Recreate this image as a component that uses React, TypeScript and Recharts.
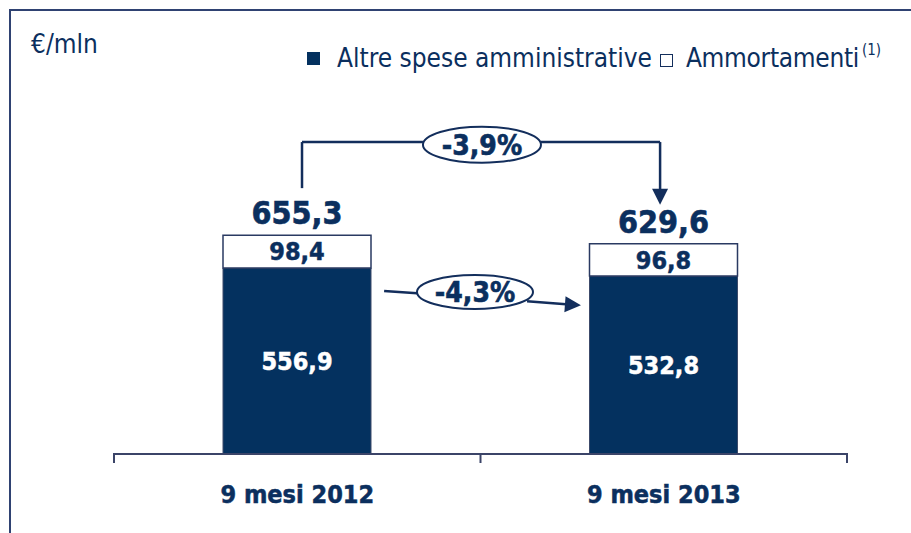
import React from 'react';
import { BarChart, Bar, XAxis, YAxis, LabelList, ReferenceLine, ReferenceDot } from 'recharts';

// ---- data ----
const categories = ['9 mesi 2012', '9 mesi 2013'];
const categoryPos = [0.5, 1.5];
const axisTicks = [0, 0.5, 1, 1.5, 2];
const altreSpese = [556.9, 532.8];
const ammortamenti = [98.4, 96.8];
const totali = [655.3, 629.6];
const seriesNames = ['Altre spese amministrative', 'Ammortamenti'];
const unitLabel = '€/mln';
const footnoteMark = '(1)';
const varTotale = '-3,9%';
const varAltre = '-4,3%';

// annotation anchors in chart units (x: axis units 0..2, y: value units)
const bracketLeft = [{ x: 0.513, y: 796 }, { x: 0.513, y: 934 }];
const bracketTopA = [{ x: 0.513, y: 934 }, { x: 0.843, y: 934 }];
const bracketTopB = [{ x: 1.165, y: 934 }, { x: 1.49, y: 934 }];
const bracketRight = [{ x: 1.49, y: 934 }, { x: 1.49, y: 746 }];
const ovalTotale = { x: 1.004, y: 926 };
const arrowAltreA = [{ x: 0.737, y: 488 }, { x: 0.827, y: 481 }];
const arrowAltreB = [{ x: 1.127, y: 457 }, { x: 1.274, y: 445 }];
const ovalAltre = { x: 0.985, y: 485 };

const data = categories.map((name, i) => ({
  name,
  pos: categoryPos[i],
  altre: altreSpese[i],
  amm: ammortamenti[i],
  totale: totali[i],
}));

const NAVY = '#04315f';
const TEXT = '#0b2f5e';
const LINE = '#132e5c';
const AXIS = '#3b4468';
const FONT = "'DejaVu Sans Condensed', 'DejaVu Sans', sans-serif";

const fmt = (v: any) => Number(v).toFixed(1).replace('.', ',');

const plainLine = (p: any) => (
  <line x1={p.x1} y1={p.y1} x2={p.x2} y2={p.y2} stroke={LINE} strokeWidth={2.5} />
);

const arrowLine = (p: any) => {
  const { x1, y1, x2, y2 } = p;
  const dx = x2 - x1;
  const dy = y2 - y1;
  const len = Math.hypot(dx, dy) || 1;
  const ux = dx / len;
  const uy = dy / len;
  const hl = 16;
  const hw = 8;
  const bx = x2 - ux * hl;
  const by = y2 - uy * hl;
  return (
    <g>
      <line x1={x1} y1={y1} x2={bx + ux} y2={by + uy} stroke={LINE} strokeWidth={2.5} />
      <polygon
        points={`${x2},${y2} ${bx - uy * hw},${by + ux * hw} ${bx + uy * hw},${by - ux * hw}`}
        fill={LINE}
      />
    </g>
  );
};

const oval = (label: string, rx: number, ry: number) => (p: any) => (
  <g>
    <ellipse cx={p.cx} cy={p.cy} rx={rx} ry={ry} fill="#ffffff" stroke={LINE} strokeWidth={2} />
    <text
      x={p.cx}
      y={p.cy + 10}
      textAnchor="middle"
      fontFamily={FONT}
      fontWeight="bold"
      fontSize={28}
      fill={TEXT}
      stroke={TEXT}
      strokeWidth={0.6}
    >
      {label}
    </text>
  </g>
);

const AxisTick = (p: any) => {
  const v = p.payload?.value;
  const idx = categoryPos.indexOf(v);
  if (idx >= 0) {
    return (
      <text
        x={p.x}
        y={p.y + 49}
        textAnchor="middle"
        fontFamily={FONT}
        fontWeight="bold"
        fontSize={25}
        fill={TEXT}
        stroke={TEXT}
        strokeWidth={0.5}
      >
        {categories[idx]}
      </text>
    );
  }
  return <line x1={p.x} y1={p.y - 1} x2={p.x} y2={p.y + 9} stroke={AXIS} strokeWidth={2} />;
};

export default function App() {
  return (
    <div
      style={{
        position: 'absolute',
        left: 0,
        top: 0,
        width: 911,
        height: 533,
        background: '#ffffff',
        overflow: 'hidden',
        fontFamily: FONT,
      }}
    >
      <div
        style={{
          position: 'absolute',
          left: 9,
          top: 9,
          right: -4,
          bottom: -4,
          borderTop: '2px solid #2f4272',
          borderLeft: '2px solid #2f4272',
        }}
      />
      <div
        style={{
          position: 'absolute',
          left: 31,
          top: 29,
          fontSize: 26,
          color: TEXT,
          lineHeight: '30px',
        }}
      >
        {unitLabel}
      </div>
      <div
        style={{
          position: 'absolute',
          left: 307,
          top: 42,
          height: 32,
          display: 'flex',
          alignItems: 'center',
          fontSize: 26,
          color: TEXT,
          whiteSpace: 'nowrap',
        }}
      >
        <span style={{ display: 'inline-block', width: 13, height: 13, background: NAVY, marginRight: 17 }} />
        <span>{seriesNames[0]}</span>
        <span
          style={{
            display: 'inline-block',
            width: 11,
            height: 11,
            background: '#fff',
            border: `1.5px solid ${LINE}`,
            marginLeft: 8,
            marginRight: 13,
            marginTop: 4,
          }}
        />
        <span style={{ letterSpacing: -0.3 }}>{seriesNames[1]}</span>
        <span style={{ fontSize: 15, position: 'relative', top: -8, marginLeft: 3 }}>{footnoteMark}</span>
      </div>
      <div style={{ position: 'absolute', left: 0, top: 0 }}>
        <BarChart
          width={911}
          height={533}
          data={data}
          margin={{ top: 120, right: 64, bottom: 0, left: 114 }}
        >
          <YAxis hide domain={[0, 1000]} type="number" />
          <XAxis
            dataKey="pos"
            type="number"
            domain={[0, 2]}
            ticks={axisTicks}
            interval={0}
            height={79}
            axisLine={{ stroke: AXIS, strokeWidth: 2 }}
            tickLine={false}
            tickSize={0}
            tickMargin={0}
            tick={<AxisTick />}
          />
          <Bar dataKey="altre" stackId="s" fill={NAVY} stroke="#3c4a6a" strokeWidth={1} barSize={148} isAnimationActive={false}>
            <LabelList
              dataKey="altre"
              position="center"
              formatter={fmt}
              fill="#ffffff"
              stroke="#ffffff"
              strokeWidth={0.5}
              fontSize={25}
              fontWeight="bold"
              fontFamily={FONT}
            />
          </Bar>
          <Bar dataKey="amm" stackId="s" fill="#ffffff" stroke="#2a3a62" strokeWidth={1.5} barSize={148} isAnimationActive={false}>
            <LabelList
              dataKey="amm"
              position="center"
              formatter={fmt}
              fill={TEXT}
              stroke={TEXT}
              strokeWidth={0.5}
              fontSize={25}
              fontWeight="bold"
              fontFamily={FONT}
            />
            <LabelList
              dataKey="totale"
              position="top"
              offset={11}
              formatter={fmt}
              fill={TEXT}
              stroke={TEXT}
              strokeWidth={0.6}
              fontSize={32}
              fontWeight="bold"
              fontFamily={FONT}
            />
          </Bar>
          <ReferenceLine segment={bracketLeft} ifOverflow="visible" shape={plainLine} />
          <ReferenceLine segment={bracketTopA} ifOverflow="visible" shape={plainLine} />
          <ReferenceLine segment={bracketTopB} ifOverflow="visible" shape={plainLine} />
          <ReferenceLine segment={bracketRight} ifOverflow="visible" shape={arrowLine} />
          <ReferenceLine segment={arrowAltreA} ifOverflow="visible" shape={plainLine} />
          <ReferenceLine segment={arrowAltreB} ifOverflow="visible" shape={arrowLine} />
          <ReferenceDot x={ovalTotale.x} y={ovalTotale.y} ifOverflow="visible" shape={oval(varTotale, 59, 18)} />
          <ReferenceDot x={ovalAltre.x} y={ovalAltre.y} ifOverflow="visible" shape={oval(varAltre, 58, 17)} />
        </BarChart>
      </div>
    </div>
  );
}
